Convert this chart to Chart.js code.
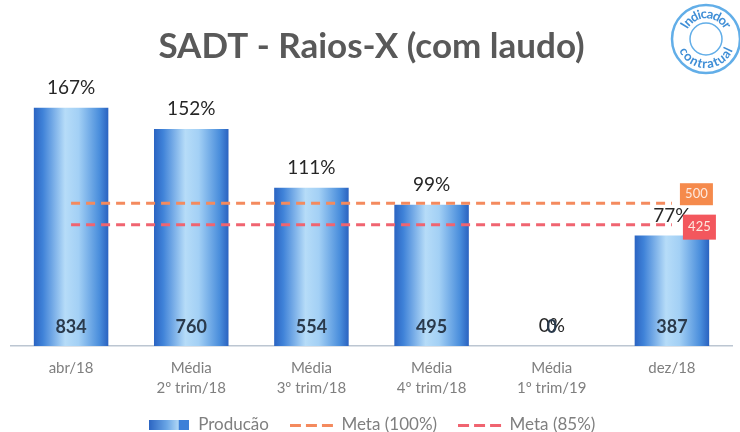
<!DOCTYPE html>
<html>
<head>
<meta charset="utf-8">
<script src="https://cdn.jsdelivr.net/npm/chart.js@4.4.1/dist/chart.umd.min.js"></script>
<style>
  html, body { margin: 0; padding: 0; background: #fff; }
</style>
</head>
<body>
<canvas id="myChart" width="740" height="432"></canvas>
<script>
const categories = [
  ["abr/18"],
  ["Média", "2º trim/18"],
  ["Média", "3º trim/18"],
  ["Média", "4º trim/18"],
  ["Média", "1º trim/19"],
  ["dez/18"],
];
const production = [834, 760, 554, 495, 0, 387];
const percentages = [167, 152, 111, 99, 0, 77];
const meta100 = [500, 500, 500, 500, 500, 500];
const meta85 = [425, 425, 425, 425, 425, 425];

const FONT = "Lato, 'Open Sans', sans-serif";

function setGradient(g) {
  g.addColorStop(0, "#2b64c2");
  g.addColorStop(0.12, "#3f82d8");
  g.addColorStop(0.42, "#b6dcf8");
  g.addColorStop(0.6, "#a3d0f5");
  g.addColorStop(0.88, "#4a8edc");
  g.addColorStop(1, "#2a62c0");
  return g;
}

// degrade horizontal de cada barra
function barFill(ctx) {
  const chart = ctx.chart;
  const xs = chart.scales.x;
  if (ctx.dataIndex === undefined || !xs || !chart.chartArea) return "#3b7fd6";
  const cx = xs.getPixelForValue(ctx.dataIndex);
  const w = (xs.width / categories.length) * 0.62;
  return setGradient(chart.ctx.createLinearGradient(cx - w / 2, 0, cx + w / 2, 0));
}

// icones da legenda
function barIcon() {
  const cv = document.createElement("canvas");
  cv.width = 40;
  cv.height = 10;
  const c = cv.getContext("2d");
  const g = c.createLinearGradient(0, 0, 30, 0);
  g.addColorStop(0, "#2b64c2");
  g.addColorStop(0.6, "#6aa6e6");
  g.addColorStop(1, "#b3d8f6");
  c.fillStyle = g;
  c.fillRect(0, 0, 30, 10);
  c.fillStyle = "#3d80d8";
  c.fillRect(30, 0, 10, 10);
  return cv;
}
function dashIcon(color) {
  const cv = document.createElement("canvas");
  cv.width = 44;
  cv.height = 3;
  const c = cv.getContext("2d");
  c.fillStyle = color;
  [0, 16, 32].forEach((x) => c.fillRect(x, 0, 11, 3));
  return cv;
}

const labelsPlugin = {
  id: "rotulos",
  afterDatasetsDraw(chart) {
    const c = chart.ctx;
    const bars = chart.getDatasetMeta(0).data;
    c.save();
    c.textAlign = "center";
    c.textBaseline = "middle";
    bars.forEach((el, i) => {
      c.font = "19px " + FONT;
      c.fillStyle = "#262626";
      c.fillText(percentages[i] + "%", el.x, el.y - 20);
      c.font = "bold 18px " + FONT;
      c.fillStyle = "#2a3a4c";
      c.fillText(String(production[i]), el.x, el.base - 19);
    });
    // caixas com o valor da meta
    const boxes = [
      { ds: 1, color: "#f58a4c", dx: 8, dy: -20, h: 22 },
      { ds: 2, color: "#f3575d", dx: 11, dy: -10, h: 25 },
    ];
    boxes.forEach((b) => {
      const pts = chart.getDatasetMeta(b.ds).data;
      const p = pts[pts.length - 1];
      const val = chart.data.datasets[b.ds].data[pts.length - 1];
      c.fillStyle = b.color;
      c.fillRect(p.x + b.dx, p.y + b.dy, 33, b.h);
      c.fillStyle = "#fde9df";
      c.font = "13px " + FONT;
      c.fillText(String(val), p.x + b.dx + 16.5, p.y + b.dy + b.h / 2);
    });
    c.restore();
  },
};

function arcText(c, text, cx, cy, r, center, top) {
  let total = 0;
  const ws = [...text].map((ch) => {
    const w = c.measureText(ch).width;
    total += w;
    return w;
  });
  const span = total / r;
  let a = top ? center - span / 2 : center + span / 2;
  [...text].forEach((ch, i) => {
    const half = ws[i] / 2 / r;
    a = top ? a + half : a - half;
    c.save();
    c.translate(cx + r * Math.cos(a), cy + r * Math.sin(a));
    c.rotate(top ? a + Math.PI / 2 : a - Math.PI / 2);
    c.fillText(ch, 0, 0);
    c.restore();
    a = top ? a + half : a - half;
  });
}

const logoPlugin = {
  id: "selo",
  afterDraw(chart) {
    const c = chart.ctx;
    const cx = 706, cy = 39;
    c.save();
    c.strokeStyle = "#62aee8";
    c.lineWidth = 2.5;
    c.beginPath();
    c.arc(cx, cy, 34, 0, Math.PI * 2);
    c.stroke();
    c.lineWidth = 1.5;
    c.beginPath();
    c.arc(cx, cy, 16, 0, Math.PI * 2);
    c.stroke();
    c.fillStyle = "#3f8ed6";
    c.font = "bold 13px " + FONT;
    c.textAlign = "center";
    c.textBaseline = "middle";
    arcText(c, "Indicador", cx, cy, 25, -Math.PI / 2, true);
    arcText(c, "contratual", cx, cy, 25, Math.PI / 2, false);
    c.restore();
  },
};

new Chart(document.getElementById("myChart"), {
  type: "bar",
  data: {
    labels: categories,
    datasets: [
      {
        label: "Producão",
        data: production,
        backgroundColor: barFill,
        barPercentage: 0.62,
        categoryPercentage: 1,
        pointStyle: barIcon(),
        order: 1,
      },
      {
        type: "line",
        label: "Meta (100%)",
        data: meta100,
        borderColor: "#f48a5e",
        backgroundColor: "#f48a5e",
        borderWidth: 3,
        borderDash: [9, 6],
        pointRadius: 0,
        pointStyle: dashIcon("#f48a5e"),
        order: 0,
      },
      {
        type: "line",
        label: "Meta (85%)",
        data: meta85,
        borderColor: "#f06470",
        backgroundColor: "#f06470",
        borderWidth: 3,
        borderDash: [9, 6],
        pointRadius: 0,
        pointStyle: dashIcon("#f06470"),
        order: 0,
      },
    ],
  },
  options: {
    responsive: false,
    animation: false,
    layout: { padding: { left: 11, right: 8, bottom: -11.5 } },
    scales: {
      x: {
        grid: { display: false, drawTicks: false },
        border: { display: true, color: "#bcc6d2", width: 1.5 },
        ticks: {
          color: "#7f7f7f",
          font: { family: FONT, size: 15, lineHeight: 1.33 },
          padding: 12,
          maxRotation: 0,
        },
        afterFit(scale) {
          scale.height = 48.5;
        },
      },
      y: { display: false, min: 0, max: 900 },
    },
    plugins: {
      title: {
        display: true,
        text: "SADT - Raios-X (com laudo)",
        color: "#595959",
        font: { family: FONT, size: 35, weight: "bold", lineHeight: 1.2 },
        padding: { top: 26, bottom: 21 },
      },
      legend: {
        position: "bottom",
        labels: {
          usePointStyle: true,
          pointStyleWidth: 42,
          boxHeight: 10,
          color: "#7f7f7f",
          font: { family: FONT, size: 17 },
          padding: 22,
          sort: (a, b) => a.datasetIndex - b.datasetIndex,
        },
      },
      tooltip: { enabled: false },
    },
  },
  plugins: [labelsPlugin, logoPlugin],
});
</script>
</body>
</html>
